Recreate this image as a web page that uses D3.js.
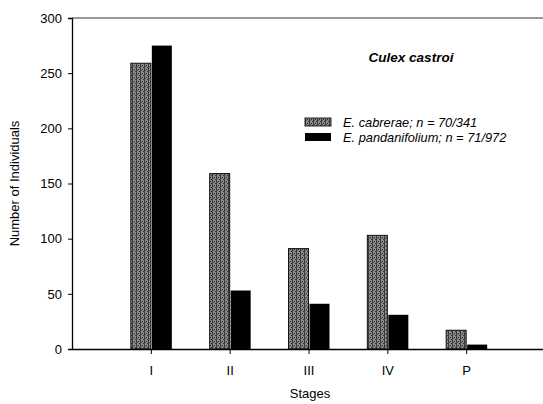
<!DOCTYPE html>
<html><head><meta charset="utf-8">
<script src="https://cdn.jsdelivr.net/npm/d3@7"></script>
<style>body{margin:0;background:#fff}svg{display:block}text{font-family:"Liberation Sans",Arial,sans-serif}</style>
</head><body><div id="chart"></div>
<script>
const stages = ["I","II","III","IV","P"];
const cabrerae = [259, 159, 91, 103, 17];
const pandanifolium = [275, 53, 41, 31, 4];
const yTicks = [0,50,100,150,200,250,300];
const seriesNames = ["E. cabrerae; n = 70/341", "E. pandanifolium; n = 71/972"];

const W=543,H=404;
const svg=d3.select("#chart").append("svg").attr("width",W).attr("height",H);
const defs=svg.append("defs");
const pat=defs.append("pattern").attr("id","stip").attr("patternUnits","userSpaceOnUse").attr("width",4).attr("height",4);
pat.append("rect").attr("width",4).attr("height",4).attr("fill","#8c8c8c");
pat.append("rect").attr("x",0).attr("y",0).attr("width",1).attr("height",4).attr("fill","#3a3a3a");
pat.append("rect").attr("x",2).attr("y",1).attr("width",1).attr("height",1).attr("fill","#222");
pat.append("rect").attr("x",3).attr("y",3).attr("width",1).attr("height",1).attr("fill","#333");
pat.append("rect").attr("x",1).attr("y",2).attr("width",1).attr("height",1).attr("fill","#555");

const x0=72, x1=545, yTop=18, yBot=349;
const x=d3.scalePoint().domain(stages).range([x0,x1]).padding(1);
const y=d3.scaleLinear().domain([0,300]).range([yBot,yTop]);
const bw=20;

// bars
svg.append("g").selectAll("rect").data(cabrerae).join("rect")
  .attr("x",(d,i)=>x(stages[i])-bw).attr("y",d=>y(d))
  .attr("width",bw).attr("height",d=>y(0)-y(d))
  .attr("fill","url(#stip)").attr("stroke","#111").attr("stroke-width",1);
svg.append("g").selectAll("rect").data(pandanifolium).join("rect")
  .attr("x",(d,i)=>x(stages[i])+1).attr("y",d=>y(d))
  .attr("width",bw).attr("height",d=>y(0)-y(d))
  .attr("fill","#000");

// axes
const ya=svg.append("g").attr("transform",`translate(${x0},0)`)
  .call(d3.axisLeft(y).tickValues(yTicks).tickSize(4).tickPadding(6));
ya.select(".domain").attr("stroke","#000").attr("stroke-width",1.3);
ya.selectAll("text").attr("font-size",13).attr("fill","#000");
const xa=svg.append("g").attr("transform",`translate(0,${yBot})`)
  .call(d3.axisBottom(x).tickSize(5).tickPadding(12).tickSizeOuter(0));
xa.select(".domain").attr("stroke","#000").attr("stroke-width",1.3);
xa.selectAll("text").attr("font-size",13).attr("fill","#000");
svg.append("line").attr("x1",x0).attr("x2",x1).attr("y1",yTop).attr("y2",yTop).attr("stroke","#333").attr("stroke-width",1);

// labels
svg.append("text").attr("transform",`translate(19,${(yTop+yBot)/2}) rotate(-90)`)
  .attr("text-anchor","middle").attr("font-size",13).text("Number of Individuals");
svg.append("text").attr("x",310).attr("y",398).attr("text-anchor","middle").attr("font-size",13).text("Stages");
svg.append("text").attr("x",411).attr("y",62).attr("text-anchor","middle").attr("font-size",13.5)
  .attr("font-weight","bold").attr("font-style","italic").text("Culex castroi");

// legend
const lg=svg.append("g").attr("transform","translate(305,118)");
const fills=["url(#stip)","#000"];
seriesNames.forEach((s,i)=>{
  const g=lg.append("g").attr("transform",`translate(0,${i*15})`);
  g.append("rect").attr("width",26).attr("height",8).attr("y",0).attr("fill",fills[i]).attr("stroke",i?"none":"#222");
  const parts=s.split(";");
  const t=g.append("text").attr("x",38).attr("y",9).attr("font-size",12.8).attr("font-style","italic");
  t.append("tspan").text(parts[0].split(" ")[0]);
  t.append("tspan").attr("font-style","normal").text(" ");
  t.append("tspan").text(parts[0].split(" ").slice(1).join(" ")+";"+parts[1]);
});
</script></body></html>
